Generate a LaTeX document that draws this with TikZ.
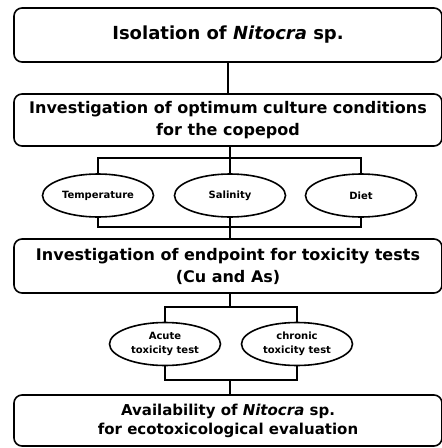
\documentclass[tikz,border=0pt]{standalone}
\usepackage{fontspec}
\setmainfont{DejaVu Sans}
\usetikzlibrary{shapes.geometric}
\begin{document}
\begin{tikzpicture}[x=1pt, y=1pt, line width=1.6pt,
                    stage/.style = {draw, fill=white, rounded corners=8pt, minimum width=428pt,
                                    inner sep=0pt, align=center,
                                    font=\bfseries\fontsize{16}{22}\selectfont},
                    factor/.style = {draw, fill=white, ellipse, minimum width=111pt, minimum height=43pt,
                                     inner sep=0pt, align=center,
                                     font=\bfseries\fontsize{10}{14}\selectfont}]
    \useasboundingbox (0,0) rectangle (442,-448);
    % main stages
    \node[stage, minimum height=54pt, font=\bfseries\fontsize{18}{22}\selectfont] (iso) at (228,-35)
        {Isolation of \textit{Nitocra} sp.};
    \node[stage, minimum height=52pt] (cult) at (228,-120)
        {Investigation of optimum culture conditions\\for the copepod};
    \node[stage, minimum height=54pt] (endp) at (228,-266)
        {Investigation of endpoint for toxicity tests\\(Cu and As)};
    \node[stage, minimum height=51pt, font=\bfseries\fontsize{15}{19}\selectfont] (avail) at (228,-420.5)
        {Availability of \textit{Nitocra} sp.\\for ecotoxicological evaluation};
    % culture conditions
    \node[factor] (temp) at (98,-195.5) {Temperature};
    \node[factor] (sal) at (230,-195.5) {Salinity};
    \node[factor] (diet) at (361,-195.5) {Diet};
    % toxicity tests
    \node[factor] (acute) at (165,-344) {Acute\\toxicity test};
    \node[factor] (chron) at (297,-344) {chronic\\toxicity test};
    % connectors
    \draw (iso.south) -- (cult.north);
    \coordinate (ct) at (230,-158);
    \coordinate (cb) at (230,-227);
    \draw (cult.south -| ct) -- (sal.north);
    \draw (temp.north) |- (ct) -| (diet.north);
    \draw (temp.south) |- (cb) -| (diet.south);
    \draw (sal.south) -- (endp.north -| sal);
    \coordinate (tt) at (230,-307);
    \coordinate (tb) at (230,-380);
    \draw (endp.south -| tt) -- (tt);
    \draw (acute.north) |- (tt) -| (chron.north);
    \draw (acute.south) |- (tb) -| (chron.south);
    \draw (tb) -- (avail.north -| tb);
\end{tikzpicture}
\end{document}
